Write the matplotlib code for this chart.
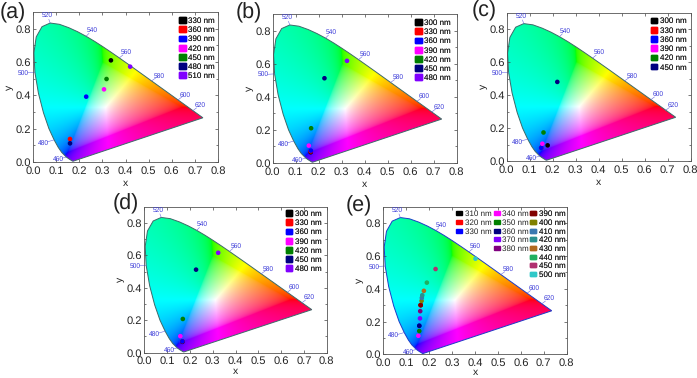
import numpy as np
import matplotlib
matplotlib.use("Agg")
import matplotlib.pyplot as plt
from matplotlib.patches import Patch, Polygon

plt.rcParams['font.family'] = ['Liberation Sans', 'DejaVu Sans']
plt.rcParams['text.hinting'] = 'none'

# CIE 1931 spectral locus
locus_nm = [380, 420, 430, 440, 450, 460, 470, 475, 480, 485, 490, 495, 500, 505, 510, 515, 520, 525, 530,
            535, 540, 545, 550, 555, 560, 565, 570, 575, 580, 585, 590, 595, 600, 610, 620, 640, 660, 700]
locus_x = [.1741, .1714, .1689, .1644, .1566, .1440, .1241, .1096, .0913, .0687, .0454, .0235, .0082, .0039,
           .0139, .0389, .0743, .1142, .1547, .1929, .2296, .2658, .3016, .3373, .3731, .4087, .4441, .4788,
           .5125, .5448, .5752, .6029, .6270, .6658, .6915, .7190, .7300, .7347]
locus_y = [.0050, .0051, .0069, .0109, .0177, .0297, .0578, .0868, .1327, .2007, .2950, .4127, .5384, .6548,
           .7502, .8120, .8338, .8262, .8059, .7816, .7543, .7243, .6923, .6589, .6245, .5896, .5547, .5202,
           .4866, .4544, .4242, .3965, .3725, .3340, .3083, .2809, .2700, .2653]

# wavelength labels on the locus
mark_nm = [460, 480, 500, 520, 540, 560, 580, 600, 620]
mark_x = [.108, .045, -.04, .062, .255, .403, .545, .657, .722]
mark_y = [.016, .114, .534, .88, .79, .658, .518, .404, .34]

# panel (a)
a_labels = ['330 nm', '360 nm', '390 nm', '420 nm', '450 nm', '480 nm', '510 nm']
a_colors = ['#000000', '#ff0000', '#0000ff', '#ff00ff', '#008000', '#000080', '#8000ff']
a_x = [.337, .16, .23, .307, .318, .16, .42]
a_y = [.61, .138, .392, .436, .498, .112, .572]

# panel (b)
b_labels = ['300 nm', '330 nm', '360 nm', '390 nm', '420 nm', '450 nm', '480 nm']
b_colors = a_colors
b_x = [.165, .165, .166, .157, .167, .225, .323]
b_y = [.065, .07, .075, .105, .21, .512, .617]

# panel (c)
c_labels = ['300 nm', '330 nm', '360 nm', '390 nm', '420 nm', '450 nm']
c_colors = a_colors[:6]
c_x = [.178, .15, .15, .155, .16, .22]
c_y = [.095, .08, .08, .105, .173, .48]

# panel (d)
d_labels = b_labels
d_colors = a_colors
d_x = [.167, .167, .167, .158, .169, .227, .324]
d_y = [.067, .07, .07, .102, .208, .512, .616]

# panel (e)
e_labels = ['310 nm', '320 nm', '330 nm', '340 nm', '350 nm', '360 nm', '370 nm', '380 nm',
            '390 nm', '400 nm', '410 nm', '420 nm', '430 nm', '440 nm', '450 nm', '500 nm']
e_colors = ['#000000', '#ff0000', '#0000ff', '#ff00ff', '#008000', '#000080', '#8000ff', '#800080',
            '#800000', '#808000', '#3a78b0', '#2a9090', '#b06a20', '#20b060', '#b03070', '#30c8c8']
e_x = [.163, .163, .157, .153, .157, .157, .16, .161, .163, .167, .168, .17, .177, .19, .228, .402]
e_y = [.30, .30, .174, .113, .142, .174, .219, .263, .30, .326, .344, .36, .387, .437, .52, .583]

W, H = 697, 378
fig = plt.figure(figsize=(W / 100, H / 100), dpi=100)


def xy_to_rgb(x, y):
    # chromaticity to sRGB, out of gamut colours get white added, scaled to full brightness
    X = x / y
    Z = (1 - x - y) / y
    r = 3.2406 * X - 1.5372 - 0.4986 * Z
    g = -0.9689 * X + 1.8758 + 0.0415 * Z
    b = 0.0557 * X - 0.2040 + 1.0570 * Z
    rgb = np.dstack([r, g, b])
    rgb = rgb - np.minimum(rgb.min(axis=2, keepdims=True), 0)
    rgb = rgb / np.maximum(rgb.max(axis=2, keepdims=True), 1e-6)
    return rgb ** (1 / 2.2)


def add_legend(ax, labels, colors, left, top, flat=False):
    handles = [Patch(color=c) for c in colors]
    leg = ax.legend(handles, labels, loc='upper left', bbox_to_anchor=(left / W, 1 - top / H),
                    bbox_transform=fig.transFigure, frameon=False, fontsize=5.8, borderpad=0,
                    borderaxespad=0, labelspacing=0.15 if flat else 0.22, handlelength=0.8,
                    handleheight=0.4 if flat else 0.72, handletextpad=0.3, labelcolor='#222222')
    ax.add_artist(leg)


def draw_panel(box, letter, letter_pos, xs, ys, colors, edge):
    left, right, top, bottom = box
    ax = fig.add_axes([left / W, 1 - bottom / H, (right - left) / W, (bottom - top) / H])

    gx, gy = np.meshgrid(np.linspace(0, .8, 400), np.linspace(.001, .9, 400))
    img = ax.imshow(xy_to_rgb(gx, gy), origin='lower', extent=(0, .8, 0, .9), aspect='auto', zorder=1)
    outline = Polygon(np.column_stack([locus_x, locus_y]), closed=True, transform=ax.transData,
                      fc='none', ec=edge, lw=0.7, zorder=2)
    ax.add_patch(outline)
    img.set_clip_path(outline)

    for nm, tx, ty in zip(mark_nm, mark_x, mark_y):
        i = locus_nm.index(nm)
        ax.annotate('', xy=(locus_x[i], locus_y[i]), xytext=(tx, ty), zorder=2,
                    arrowprops=dict(arrowstyle='-', color='#6a6ae0', lw=0.4, shrinkA=3, shrinkB=0))
        ax.text(tx, ty, str(nm), color='#3a3ad8', fontsize=4.8, ha='center', va='center', clip_on=False, zorder=3)

    ax.scatter(xs, ys, c=colors, s=11, linewidths=0, zorder=4)

    ax.set_xlim(0, .8)
    ax.set_ylim(0, .9)
    ax.set_xticks(np.arange(0, .81, .1))
    ax.set_yticks(np.arange(0, .81, .2))
    ax.set_yticks(np.arange(.1, .9, .2), minor=True)
    ax.xaxis.set_major_formatter('{x:.1f}')
    ax.yaxis.set_major_formatter('{x:.1f}')
    ax.tick_params(which='major', direction='in', top=True, right=True, length=2.2, width=0.5,
                   labelsize=8, pad=1.5, color='#444444', labelcolor='#222222')
    ax.tick_params(axis='x', which='major', pad=2.5)
    ax.tick_params(which='minor', direction='in', right=True, length=1.2, width=0.5, color='#444444')
    ax.set_xlabel('x', fontsize=7.5, labelpad=2, color='#222222')
    ax.set_ylabel('y', fontsize=7.5, labelpad=1, color='#222222')
    for s in ax.spines.values():
        s.set_linewidth(0.6)
        s.set_color('#555555')
    fig.text(letter_pos[0] / W, 1 - letter_pos[1] / H, letter, fontsize=15.5, ha='left', va='center', color='#222222')
    return ax


ax = draw_panel((33, 218, 12, 162), '(a)', (0, 13), a_x, a_y, a_colors, '#3c6a6a')
add_legend(ax, a_labels, a_colors, 179.5, 17)
ax = draw_panel((272.7, 456.7, 14, 163), '(b)', (236, 13), b_x, b_y, b_colors, '#3c6a6a')
add_legend(ax, b_labels, b_colors, 415.5, 19)
ax = draw_panel((506.7, 690.7, 12.7, 161), '(c)', (472, 11), c_x, c_y, c_colors, '#3c6a6a')
add_legend(ax, c_labels, c_colors, 651, 17.5)
ax = draw_panel((144.3, 326.7, 206.7, 352.7), '(d)', (113, 204), d_x, d_y, d_colors, '#3c6a6a')
ax.xaxis.labelpad = 0.5
add_legend(ax, d_labels, d_colors, 286, 210)
ax = draw_panel((383.3, 566.7, 206.7, 354.3), '(e)', (346, 206), e_x, e_y, e_colors, '#1c3cc8')
ax.xaxis.labelpad = 0
add_legend(ax, e_labels[:3], e_colors[:3], 456, 210.5, flat=True)
add_legend(ax, e_labels[3:8], e_colors[3:8], 493.5, 210.5, flat=True)
add_legend(ax, e_labels[8:], e_colors[8:], 530, 210.5, flat=True)

fig.savefig('out.png', dpi=100)
